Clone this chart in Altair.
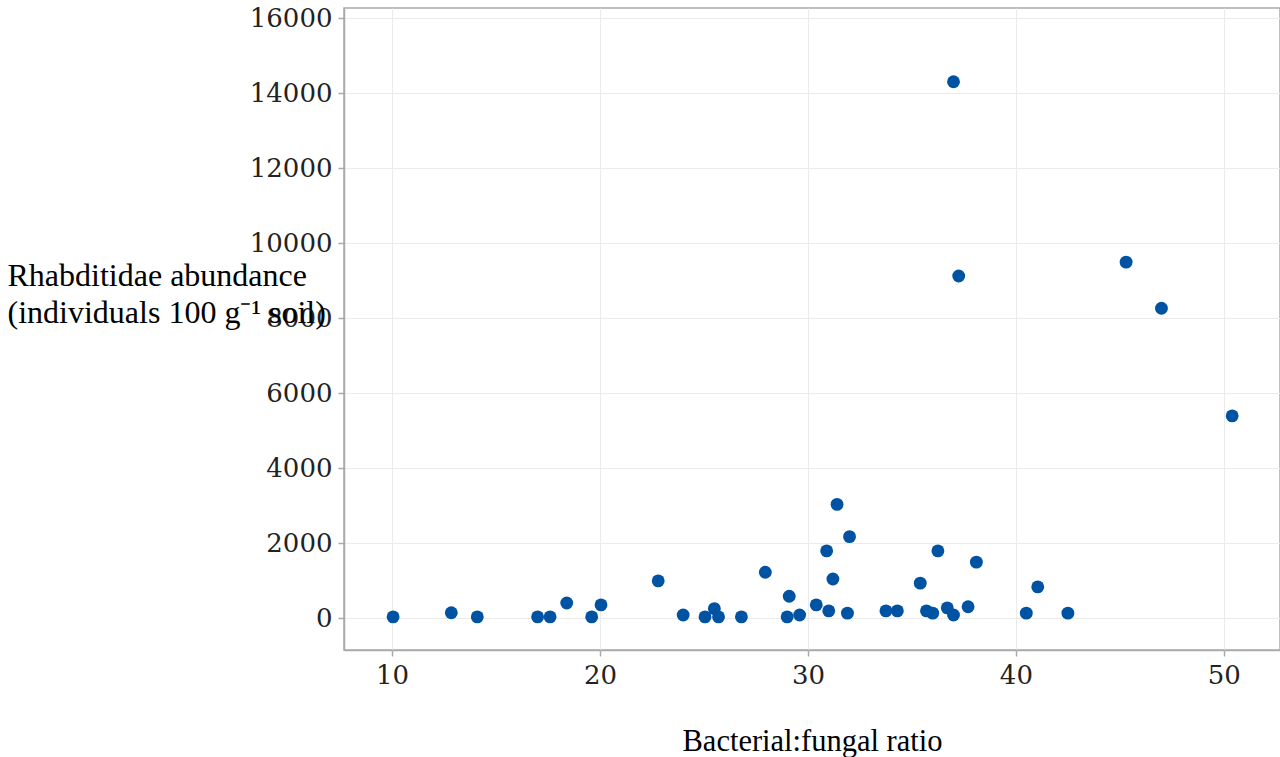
import altair as alt
import pandas as pd

ratio = [10.05, 12.85, 14.1, 17.0, 17.6, 18.4, 19.6, 20.05, 22.8, 24.0, 25.05, 25.5, 25.7, 26.8,
         27.95, 29.1, 29.0, 29.6, 30.4, 31.0, 31.4, 32.0, 30.9, 31.2, 31.9, 33.75, 34.3, 35.4,
         36.25, 35.7, 36.0, 36.7, 37.0, 37.7, 38.1, 40.5, 41.05, 42.5, 37.0, 37.25, 45.3, 47.0, 50.4]
abundance = [30, 140, 30, 30, 30, 400, 30, 350, 990, 80, 30, 250, 30, 30,
             1220, 580, 30, 80, 350, 190, 3030, 2170, 1790, 1040, 130, 190, 190, 930,
             1790, 190, 130, 270, 80, 300, 1490, 130, 830, 130, 14300, 9120, 9490, 8260, 5390]

df = pd.DataFrame({"ratio": ratio, "abundance": abundance})

x_ticks = [10, 20, 30, 40, 50]
y_ticks = [0, 2000, 4000, 6000, 8000, 10000, 12000, 14000, 16000]

chart = alt.Chart(df).mark_circle(size=165, opacity=1, color="#0052A3").encode(
    x=alt.X("ratio:Q", scale=alt.Scale(domain=[7.69, 52.7], nice=False, zero=False),
            axis=alt.Axis(values=x_ticks, title="Bacterial:fungal ratio", format="d",
                          titleY=100, titleBaseline="alphabetic", titleFontSize=30.5)),
    y=alt.Y("abundance:Q", scale=alt.Scale(domain=[-853, 16267], nice=False, zero=False),
            axis=alt.Axis(values=y_ticks, title=["Rhabditidae abundance", "(individuals 100 g\u207b\u00b9 soil)"],
                          format="d", titleAngle=0, titleAlign="left", titleBaseline="top",
                          titleX=-337, titleY=252, titleLineHeight=37, titleFontSize=32)),
).properties(
    width=936, height=642,
    background="white",
    autosize=alt.AutoSizeParams(type="none"),
    padding={"left": 344, "top": 8, "right": 0, "bottom": 107},
).configure_view(
    stroke="#aaaaaa", strokeWidth=1.5
).configure_axis(
    grid=True, gridColor="#ebebeb", gridWidth=1,
    domainColor="#aaaaaa", domainWidth=1.5,
    tickColor="#aaaaaa", tickSize=6, tickWidth=1.5,
    labelFont="DejaVu Serif", labelFontSize=26, labelColor="#222222", labelPadding=6,
    titleFont="Liberation Serif", titleFontWeight="normal", titleColor="#000000",
)

chart.save("out.html", embed_options={"renderer": "svg", "actions": False})
